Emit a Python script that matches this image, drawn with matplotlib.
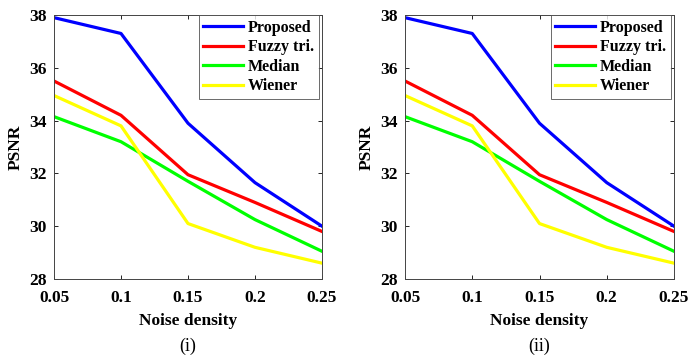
import matplotlib
matplotlib.use("Agg")
import matplotlib.pyplot as plt

noise = [0.05, 0.1, 0.15, 0.2, 0.25]
proposed = [37.9, 37.3, 33.9, 31.65, 30.0]
fuzzy = [35.5, 34.2, 31.95, 30.9, 29.8]
median = [34.15, 33.2, 31.7, 30.25, 29.05]
wiener = [34.95, 33.8, 30.1, 29.2, 28.6]
xticks = [0.05, 0.1, 0.15, 0.2, 0.25]
xticklabels = ["0.05", "0.1", "0.15", "0.2", "0.25"]
yticks = [28, 30, 32, 34, 36, 38]
captions = ["(i)", "(ii)"]

plt.rcParams['font.family'] = ['Liberation Serif', 'DejaVu Serif']

fig = plt.figure(figsize=(6.88, 3.58), dpi=100)
W, H = 688, 358
panels = [(54, 322), (405, 674)]
top, bottom = 15, 279

for (l, r), cap in zip(panels, captions):
    aw, ah = r - l, bottom - top
    ax = fig.add_axes([l / W, 1 - bottom / H, aw / W, ah / H])
    ax.plot(noise, proposed, color='#0000ff', lw=2.3, label='Proposed')
    ax.plot(noise, fuzzy, color='#ff0000', lw=2.3, label='Fuzzy tri.')
    ax.plot(noise, median, color='#00ff00', lw=2.3, label='Median')
    ax.plot(noise, wiener, color='#ffff00', lw=2.3, label='Wiener')
    ax.set_xlim(0.05, 0.25)
    ax.set_ylim(28, 38)
    ax.set_xticks(xticks)
    ax.set_xticklabels(xticklabels)
    ax.set_yticks(yticks)
    ax.tick_params(direction='in', labelsize=12.5, length=3, width=0.6, top=True, right=True)
    ax.tick_params(axis='x', pad=8)
    ax.tick_params(axis='y', pad=5)
    for t in ax.get_xticklabels() + ax.get_yticklabels():
        t.set_fontweight('bold')
    for s in ax.spines.values():
        s.set_linewidth(0.7)
        s.set_color('#444444')
    ax.set_xlabel('Noise density', fontsize=12.5, fontweight='bold')
    ax.xaxis.set_label_coords(0.5, -(313 - bottom) / ah)
    ax.set_ylabel('PSNR', fontsize=12.5, fontweight='bold')
    ax.yaxis.set_label_coords(-30 / aw, 0.5)
    leg = ax.legend(loc='upper right', bbox_to_anchor=(1 - 3 / aw, 1),
                    prop={'weight': 'bold', 'size': 11.5},
                    frameon=True, fancybox=False, handlelength=2.5, borderaxespad=0.0,
                    labelspacing=0.22, handletextpad=0.3, borderpad=0.3)
    leg.get_frame().set_edgecolor('#444444')
    leg.get_frame().set_linewidth(0.7)
    fig.text((l + r) / 2 / W, 1 - 346 / H, cap, ha='center', va='center', fontsize=13)

fig.savefig('out.png', dpi=100)
